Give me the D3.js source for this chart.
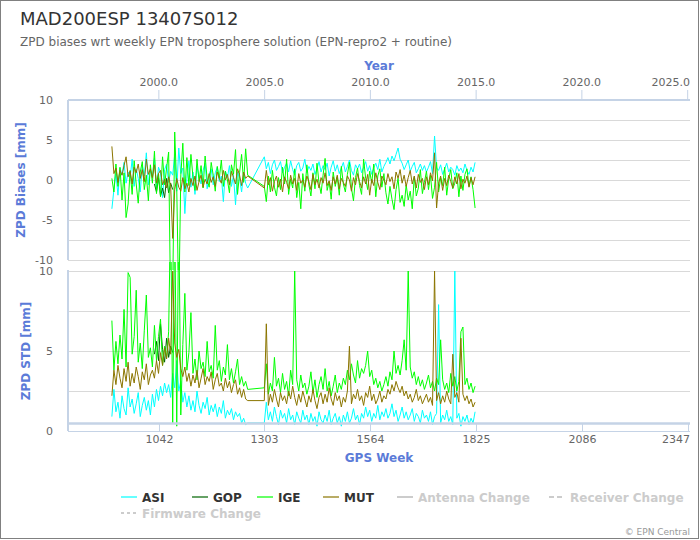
<!DOCTYPE html>
<html><head><meta charset="utf-8">
<script src="https://cdn.jsdelivr.net/npm/d3@7"></script>
<style>body{margin:0;background:#fff}text{font-family:"DejaVu Sans",sans-serif}</style>
</head><body><svg id="c" width="700" height="540"></svg>
<script>
// ---------- DATA ----------
const seriesNames = ["ASI", "GOP", "IGE", "MUT"];
const seriesColors = ["#00ffff", "#006400", "#00ff00", "#8b7500"];
const legendSymbolColors = ["#66ffff", "#66a266", "#66ff66", "#b9ac66"];
const hiddenNames = ["Antenna Change", "Receiver Change", "Firmware Change"];
const weekTicks = [1042, 1303, 1564, 1825, 2086, 2347];
const yearTicks = [2000, 2005, 2010, 2015, 2020, 2025];
const biasTicks = [10, 5, 0, -5, -10];
const biasGrid = [-10, -7.5, -5, -2.5, 0, 2.5, 5, 7.5];
const stdTicks = [10, 5, 0];
const stdGrid = [2.5, 5, 7.5, 10];

// GPS weeks of the two observation periods (weekly solutions, sampled)
const weeksA = d3.range(927, 1263, 5);   // 68
const weeksB = d3.range(1303, 1826, 5);  // 105
const weeksGOP = d3.range(1032, 1078, 5); // 10

// ZPD biases [mm]
const asiBiasA = [-3.6,-1.2,0.8,-1.9,1.5,0.6,2.2,-0.4,1.0,0.3,
 2.6,-0.8,1.4,0.2,-1.5,1.8,0.5,3.4,-0.6,1.2,
 0.4,2.7,-1.0,1.6,0.9,-2.2,1.3,2.0,-0.3,1.1,
 0.6,3.2,-1.4,4.0,0.8,1.5,-4.2,0.2,2.4,-0.9,
 1.0,-1.8,1.7,0.4,-0.5,1.2,2.1,-1.1,0.7,1.4,
 -0.6,0.9,1.6,-0.2,0.5,-2.7,1.1,0.3,1.8,-0.8,
 0.6,-3.1,1.0,0.2,-1.5,0.8,-0.4,-1.0];
const asiBiasB = [2.9,1.4,2.2,0.8,1.9,2.5,1.2,1.7,2.3,0.9,
 1.6,2.1,1.0,2.4,1.3,0.6,1.8,2.2,1.1,1.5,
 2.6,0.9,1.7,1.2,2.0,0.7,1.4,2.3,1.0,1.8,
 1.3,2.1,0.5,1.6,2.4,1.1,1.9,0.8,1.5,2.2,
 1.0,1.7,2.5,1.2,0.6,1.9,1.4,2.0,0.9,1.6,
 2.3,1.1,1.8,0.7,1.5,2.1,1.3,2.6,1.0,1.7,
 2.2,2.8,2.0,3.0,2.4,3.2,4.0,2.6,2.1,1.3,
 1.9,2.5,1.1,1.7,2.2,0.9,1.4,2.0,1.2,1.8,
 1.0,1.6,2.3,0.8,5.5,1.5,1.2,1.9,0.7,1.4,
 2.1,1.0,1.6,1.3,0.6,1.8,1.1,1.5,0.9,2.0,
 1.2,0.7,1.6,1.0,2.2];
const gopBias = [-0.5,-1.5,0.3,-2.0,-1.0,-2.2,0.2,-1.6,-0.4,-1.2];
const igeBiasA = [0.2,-1.5,2.0,-0.8,1.6,-2.5,0.9,-4.7,-3.0,1.2,
 -1.8,2.4,-0.5,-2.9,1.0,2.3,-1.2,0.6,-2.6,1.9,
 -0.4,3.6,-1.7,0.8,-2.1,2.9,-0.6,1.5,3.5,-16,
 -14,6.0,-1.0,-16,0.5,4.6,-1.5,2.8,-0.7,3.2,
 0.4,-1.3,2.6,-0.2,1.8,-1.0,3.0,0.1,-0.9,2.2,
 0.6,-1.4,1.7,0.2,2.5,-0.8,1.1,0.0,-1.6,1.9,
 0.7,3.8,-1.8,0.9,3.2,-0.3,3.9,0.6];
const igeBiasB = [-0.8,-2.7,0.5,-1.5,1.2,-0.9,-2.0,0.3,-1.2,1.6,
 -0.5,2.6,-1.8,0.1,-1.0,1.4,-2.2,-0.3,-3.6,0.8,
 -1.4,1.9,-0.6,-2.0,0.9,-1.1,2.1,-0.4,-1.7,0.6,
 2.7,-1.3,-0.2,-2.4,1.0,-0.8,0.4,-1.9,1.7,-0.5,
 -1.5,0.7,2.2,-1.0,-2.6,0.3,1.5,-0.7,-1.8,2.6,
 0.2,-1.2,1.1,-0.4,2.0,-2.1,0.5,1.4,-0.9,0.8,
 -1.6,-3.0,-0.8,-2.4,-3.7,-1.2,0.2,-2.8,-1.9,-3.3,
 -0.6,-2.5,-1.4,-3.6,0.4,-2.0,-1.0,1.3,-1.7,-0.3,
 1.1,-1.2,0.6,-2.3,-0.9,2.2,-1.5,0.3,-0.7,1.6,
 -1.9,0.2,1.3,-1.1,-0.4,0.9,-2.1,0.5,-1.3,0.7,
 1.4,-0.8,0.4,-1.2,-3.5];
const mutBiasA = [4.2,0.8,1.5,-0.3,1.2,0.6,1.8,2.9,0.4,1.1,
 -0.5,1.6,0.9,2.0,0.2,1.3,-0.2,2.6,0.7,1.4,
 0.3,1.9,-0.4,0.8,1.2,-0.6,0.1,-1.0,0.4,-0.8,
 -7.3,-1.2,0.2,-0.9,-1.4,0.3,-1.1,-0.4,-1.5,0.2,
 -0.7,0.5,-1.3,-0.2,0.6,-0.9,0.1,-0.5,0.8,-0.3,
 0.4,-0.8,1.0,0.2,-0.4,1.2,0.0,0.7,-0.6,1.1,
 0.3,-0.5,1.4,0.6,-0.7,1.0,0.2,0.5];
const mutBiasB = [-1.0,1.2,-0.6,0.3,-1.4,-0.2,0.5,-0.9,0.1,-1.5,
 0.4,-0.3,-1.1,0.6,-0.5,0.2,-1.3,0.8,-0.4,0.0,
 -0.9,0.5,-0.2,-1.2,0.7,-0.6,0.1,-1.0,0.3,-0.4,
 0.9,-0.7,-0.1,-1.3,0.4,-0.5,0.6,-1.1,0.2,-0.3,
 -0.8,0.5,0.0,-1.4,0.3,-0.6,0.8,-0.2,-1.0,0.4,
 -0.5,0.7,-1.9,0.1,-0.7,0.9,-0.3,-1.2,0.5,0.0,
 -0.6,0.8,-0.2,0.4,-1.1,1.0,0.2,1.3,-0.4,0.6,
 -0.8,0.3,1.2,-0.5,0.5,-1.0,0.7,-0.3,0.2,-1.2,
 0.4,-0.6,0.9,-0.1,3.4,-3.5,-0.4,0.5,-1.3,0.2,
 -0.7,0.6,-0.2,-1.0,0.4,-0.5,0.8,-1.1,0.1,-0.4,
 0.5,-0.9,0.3,-0.6,0.4];

// ZPD standard deviations [mm]
const asiStdA = [0.9,2.6,1.2,1.8,0.8,2.2,1.4,1.0,2.7,1.5,
 2.0,1.1,1.7,2.4,0.9,1.6,2.1,1.3,1.9,1.0,
 2.3,1.5,2.6,1.9,2.8,2.2,3.0,2.4,2.9,2.1,
 3.6,2.7,4.4,2.5,3.1,1.8,2.4,1.5,2.2,1.3,
 1.9,1.2,2.5,1.6,1.1,1.8,1.4,2.1,1.0,1.6,
 1.2,1.7,0.9,1.5,1.1,1.9,0.8,1.3,1.0,1.4,
 0.7,1.2,0.9,1.1,0.5,0.8,0.4,0.5];
const asiStdB = [0.5,1.8,0.7,1.2,0.6,1.5,0.9,0.4,1.3,0.8,
 1.1,0.5,1.4,0.7,1.0,0.4,1.2,0.8,0.5,1.3,
 0.7,1.0,0.4,1.1,0.6,0.9,0.3,1.2,0.7,0.5,
 1.0,0.6,1.3,0.4,0.8,1.1,0.5,0.9,0.3,1.0,
 0.6,1.2,0.5,0.8,1.4,0.7,1.0,0.4,1.1,0.8,
 1.5,0.9,1.3,0.6,1.1,0.8,1.6,0.7,1.2,0.9,
 1.4,0.8,1.1,1.7,0.9,1.3,0.6,1.0,1.5,0.8,
 1.2,0.7,1.0,1.4,0.6,1.1,0.9,0.5,1.3,0.8,
 1.0,0.6,1.2,0.4,0.9,1.1,7.9,0.5,1.0,0.7,
 1.3,0.6,0.9,0.4,10.0,0.8,1.1,0.3,0.9,0.6,
 1.0,0.4,0.8,0.5,1.2];
const gopStd = [4.8,5.6,4.4,6.7,5.1,4.3,5.8,4.6,5.3,4.9];
const igeStdA = [6.9,3.8,5.6,4.2,6.0,4.5,7.6,4.0,9.9,9.6,
 4.8,5.9,8.8,4.3,5.5,3.9,6.3,8.5,4.6,5.2,
 4.0,6.6,4.4,5.9,7.0,4.1,5.3,4.6,6.2,14,
 0.5,14,0.3,14,1.0,5.4,8.6,3.8,4.9,7.4,
 3.6,4.5,3.2,5.0,3.9,4.3,3.4,5.6,3.7,4.1,
 3.3,6.6,3.8,4.4,3.1,4.0,3.5,5.4,3.2,3.9,
 3.0,3.7,4.5,2.9,3.4,2.8,3.1,2.6];
const igeStdB = [2.7,4.2,2.3,3.0,2.5,4.6,2.8,3.3,2.4,3.6,
 2.6,3.1,2.2,3.8,2.9,10.0,3.2,2.5,3.5,2.7,
 3.0,2.3,2.8,3.7,2.4,3.2,2.1,2.9,3.4,2.6,
 3.9,2.5,3.1,2.2,2.8,3.5,2.4,3.0,2.6,3.3,
 2.9,3.8,3.2,4.2,3.5,3.0,4.4,3.3,3.9,3.6,
 4.1,5.0,3.4,3.8,2.9,3.3,2.7,3.1,2.5,2.9,
 3.4,2.8,3.7,3.2,5.0,3.6,4.1,3.5,4.4,5.7,
 3.8,10.0,4.0,3.3,3.7,2.9,3.4,2.8,3.2,2.6,
 3.0,3.5,2.7,3.1,2.5,3.3,2.9,5.7,3.2,2.6,
 3.0,2.4,3.6,2.8,3.4,2.5,3.1,6.2,6.5,2.9,
 3.3,2.6,3.0,2.4,2.8];
const mutStdA = [2.2,3.8,2.9,4.1,3.3,2.7,3.9,3.1,4.3,2.8,
 3.6,3.0,4.0,3.4,2.6,3.7,3.2,4.2,2.9,3.5,
 3.8,3.3,4.4,3.6,4.9,4.1,5.2,4.5,5.8,4.8,
 10.0,5.5,4.6,5.1,3.9,3.4,4.0,3.1,3.6,2.8,
 3.5,3.0,3.8,2.7,3.3,3.9,2.9,3.4,3.1,3.7,
 2.6,3.2,3.6,2.8,3.0,2.5,3.3,2.7,3.1,2.4,
 2.9,3.2,2.3,2.7,2.1,2.6,2.0,1.9];
const mutStdB = [1.9,6.7,1.6,2.3,1.8,2.6,2.0,1.5,2.4,1.9,
 2.2,1.7,2.5,2.0,2.8,2.1,1.6,2.3,1.8,2.5,
 2.0,1.5,2.2,1.8,2.6,1.9,1.4,2.1,2.4,1.7,
 2.3,1.8,2.7,2.0,1.6,2.4,1.9,2.2,1.5,2.1,
 1.8,2.5,5.3,1.7,2.3,2.0,2.6,1.9,2.2,1.6,
 2.4,2.1,2.8,1.9,2.3,1.7,2.0,2.5,1.8,2.2,
 2.0,2.6,2.3,2.9,2.5,3.1,2.7,2.4,2.8,2.2,
 2.5,2.0,2.3,1.8,2.1,2.6,1.9,2.2,1.7,2.0,
 2.3,1.8,2.1,1.6,10.0,1.9,2.4,1.7,2.2,1.8,
 2.5,2.0,1.7,4.8,2.1,2.4,1.8,5.8,2.3,1.9,
 2.2,1.7,2.0,1.5,1.8];

// ---------- HELPERS ----------
function pairs(weeks, vals) {
  const n = Math.min(weeks.length, vals.length);
  return d3.range(n).map(i => [weeks[i], vals[i]]);
}
function series(a, b) {
  return pairs(weeksA, a).concat(pairs(weeksB, b));
}
const biasData = [
  series(asiBiasA, asiBiasB),
  pairs(weeksGOP, gopBias),
  series(igeBiasA, igeBiasB),
  series(mutBiasA, mutBiasB)
];
const stdData = [
  series(asiStdA, asiStdB),
  pairs(weeksGOP, gopStd),
  series(igeStdA, igeStdB),
  series(mutStdA, mutStdB)
];

// ---------- CHART ----------
const svg = d3.select("#c");
const axisColor = "#c5d3e6", gridColor = "#d9d9d9", labelColor = "#666", blue = "#5b7bd8";
const L = 68, R = 690;

svg.append("rect").attr("x", 0.5).attr("y", 0.5).attr("width", 698).attr("height", 538)
  .attr("fill", "#fff").attr("stroke", "#808080");

svg.append("text").attr("x", 20).attr("y", 25).attr("font-size", 18).attr("fill", "#333")
  .text("MAD200ESP 13407S012");
svg.append("text").attr("x", 20).attr("y", 46).attr("font-size", 12).attr("fill", "#666")
  .text("ZPD biases wrt weekly EPN troposphere solution (EPN-repro2 + routine)");

const x = d3.scaleLinear().domain([1042, 2347]).range([158.5, 687.5]);
const yB = d3.scaleLinear().domain([-10, 10]).range([260, 100]);
const yS = d3.scaleLinear().domain([0, 10]).range([431, 271]);
const gpsEpoch = Date.UTC(1980, 0, 6);
const yearToWeek = yr => (Date.UTC(yr, 0, 1) - gpsEpoch) / (7 * 864e5);

// keep edge labels inside the chart (shift left like the original)
function fitLabel(sel, maxRight) {
  sel.each(function () {
    const t = d3.select(this);
    const w = this.getComputedTextLength();
    const cx = +t.attr("data-cx");
    if (cx + w / 2 > maxRight) t.attr("x", maxRight - w / 2 - cx);
  });
}

// gridlines
svg.append("g").selectAll("line").data(biasGrid).join("line")
  .attr("x1", L).attr("x2", R).attr("y1", d => Math.round(yB(d)) + 0.5).attr("y2", d => Math.round(yB(d)) + 0.5)
  .attr("stroke", gridColor);
svg.append("g").selectAll("line").data(stdGrid).join("line")
  .attr("x1", L).attr("x2", R).attr("y1", d => Math.round(yS(d)) + 0.5).attr("y2", d => Math.round(yS(d)) + 0.5)
  .attr("stroke", gridColor);

// clip paths
const defs = svg.append("defs");
defs.append("clipPath").attr("id", "clipTop").append("rect")
  .attr("x", L).attr("y", 100).attr("width", R - L).attr("height", 170);
defs.append("clipPath").attr("id", "clipBot").append("rect")
  .attr("x", L).attr("y", 262).attr("width", R - L).attr("height", 170);

function drawLines(data, yScale, clip) {
  const g = svg.append("g").attr("clip-path", `url(#${clip})`);
  const line = d3.line().x(d => x(d[0])).y(d => yScale(d[1]));
  data.forEach((s, i) => {
    g.append("path").datum(s).attr("d", line).attr("fill", "none")
      .attr("stroke", seriesColors[i]).attr("stroke-width", 1).attr("stroke-linejoin", "round");
  });
}
drawLines(biasData, yB, "clipTop");
drawLines(stdData, yS, "clipBot");

// top (year) axis
svg.append("line").attr("x1", L).attr("x2", R).attr("y1", 100).attr("y2", 100)
  .attr("stroke", axisColor).attr("stroke-width", 2);
const yt = svg.append("g").selectAll("g").data(yearTicks).join("g")
  .attr("transform", d => `translate(${x(yearToWeek(d))},0)`);
yt.append("line").attr("y1", 90).attr("y2", 100).attr("stroke", axisColor);
yt.append("text").attr("y", 86).attr("text-anchor", "middle").attr("font-size", 11)
  .attr("data-cx", d => x(yearToWeek(d)))
  .attr("fill", labelColor).text(d => d.toFixed(1)).call(fitLabel, 690);
svg.append("text").attr("x", 379).attr("y", 70).attr("text-anchor", "middle")
  .attr("font-size", 12).attr("font-weight", "bold").attr("fill", blue).text("Year");

// bottom (GPS week) axis
svg.append("line").attr("x1", L).attr("x2", R).attr("y1", 431.5).attr("y2", 431.5)
  .attr("stroke", axisColor).attr("stroke-width", 1);
svg.append("line").attr("x1", L).attr("x2", R).attr("y1", 423.5).attr("y2", 423.5)
  .attr("stroke", axisColor).attr("stroke-width", 2.5);
const wt = svg.append("g").selectAll("g").data(weekTicks).join("g")
  .attr("transform", d => `translate(${Math.round(x(d)) + 0.5},0)`);
wt.append("line").attr("y1", 423).attr("y2", 431).attr("stroke", axisColor);
wt.append("text").attr("y", 443).attr("text-anchor", "middle").attr("font-size", 11)
  .attr("data-cx", d => Math.round(x(d)) + 0.5)
  .attr("fill", labelColor).text(d => d).call(fitLabel, 690);
svg.append("text").attr("x", 379).attr("y", 462).attr("text-anchor", "middle")
  .attr("font-size", 12).attr("font-weight", "bold").attr("fill", blue).text("GPS Week");

// left axes
svg.append("line").attr("x1", L).attr("x2", L).attr("y1", 100).attr("y2", 260)
  .attr("stroke", axisColor).attr("stroke-width", 2);
svg.append("line").attr("x1", L).attr("x2", L).attr("y1", 270).attr("y2", 431)
  .attr("stroke", axisColor).attr("stroke-width", 2);
svg.append("g").selectAll("text").data(biasTicks).join("text")
  .attr("x", 53).attr("y", d => yB(d) + 4).attr("text-anchor", "end").attr("font-size", 11)
  .attr("fill", labelColor).text(d => d);
svg.append("g").selectAll("text").data(stdTicks).join("text")
  .attr("x", 53).attr("y", d => yS(d) + 4).attr("text-anchor", "end").attr("font-size", 11)
  .attr("fill", labelColor).text(d => d);
svg.append("text").attr("transform", "translate(25,180) rotate(-90)").attr("text-anchor", "middle")
  .attr("font-size", 12).attr("font-weight", "bold").attr("fill", blue).text("ZPD Biases [mm]");
svg.append("text").attr("transform", "translate(29.5,351) rotate(-90)").attr("text-anchor", "middle")
  .attr("font-size", 12).attr("font-weight", "bold").attr("fill", blue).text("ZPD STD [mm]");

// legend
const legendItems = seriesNames.map((n, i) => ({name: n, color: legendSymbolColors[i], dash: null, active: true}))
  .concat(hiddenNames.map((n, i) => ({name: n, color: "#cccccc", dash: [null, "5,3", "3,3"][i], active: false})));
const legendPos = [[121, 497], [192, 497], [257, 497], [323, 497], [397, 497], [549, 497], [121, 513]];
const lg = svg.append("g").selectAll("g").data(legendItems).join("g")
  .attr("transform", (d, i) => `translate(${legendPos[i][0]},${legendPos[i][1]})`);
lg.append("line").attr("x1", 0).attr("x2", 16).attr("y1", 0).attr("y2", 0)
  .attr("stroke", d => d.color).attr("stroke-width", 2)
  .attr("stroke-dasharray", d => d.dash);
lg.append("text").attr("x", 21).attr("y", 4.5).attr("font-size", 12).attr("font-weight", "bold")
  .attr("fill", d => d.active ? "#333" : "#cccccc").text(d => d.name);

svg.append("text").attr("x", 690).attr("y", 535).attr("text-anchor", "end").attr("font-size", 9)
  .attr("fill", "#999").text("© EPN Central");
</script></body></html>
